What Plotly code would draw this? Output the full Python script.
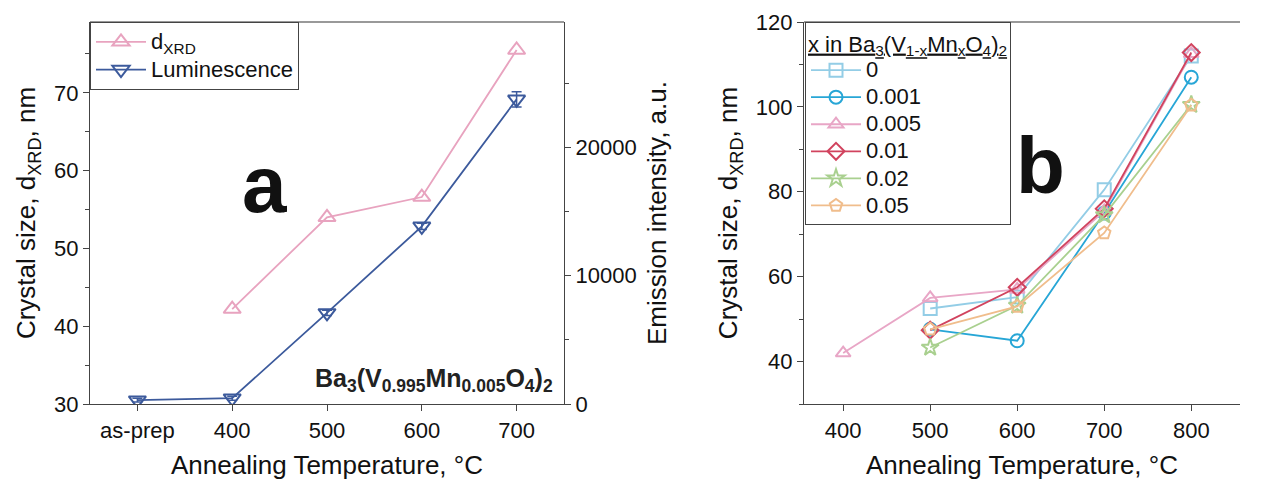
import plotly.graph_objects as go

# ---------------- data ----------------
temps_a = ["as-prep", "400", "500", "600", "700"]
d_xrd_a = [None, 42.2, 54.0, 56.6, 75.5]
lum_a = [300, 450, 7100, 13850, 23750]
lum_err = [150, 150, 200, 250, 600]

temps_b = [400, 500, 600, 700, 800]
x_labels = ["0", "0.001", "0.005", "0.01", "0.02", "0.05"]
size_x0 = [None, 52.5, 55.2, 80.5, 112.0]
size_x0001 = [None, 47.6, 44.9, 75.0, 107.0]
size_x0005 = [42.0, 55.0, 57.0, 75.5, 112.5]
size_x001 = [None, 47.4, 57.5, 76.0, 112.8]
size_x002 = [None, 43.3, 53.2, 74.5, 100.5]
size_x005 = [None, 47.6, 53.0, 70.3, 100.4]

series_b = [size_x0, size_x0001, size_x0005, size_x001, size_x002, size_x005]
colors_b = ["#93cde6", "#27a6d6", "#e8a6c6", "#d1435e", "#a9d08f", "#f0bd8c"]
symbols_b = ["square-open", "circle-open", "triangle-up-open", "diamond-open", "star-open", "pentagon-open"]

PINK = "#e8a3bf"
NAVY = "#3c5a9c"
FONT = "Liberation Sans, Arial, sans-serif"

# the page places the figure 8 px from the top-left corner
OFF = 8
W, H = 1271 - OFF, 481 - OFF
def px(x):
    return (x - OFF) / W
def py(y):
    return 1 - (y - OFF) / H

def big(t, s=22):
    return f'<span style="font-size:{s}px">{t}</span>'

fig = go.Figure()

fig.add_trace(go.Scatter(
    x=temps_a, y=d_xrd_a, name=big("d<sub>XRD</sub>"), mode="lines+markers",
    line=dict(color=PINK, width=1.8),
    marker=dict(symbol="triangle-up-open", size=15, color=PINK, line=dict(width=2, color=PINK)),
    xaxis="x", yaxis="y", legend="legend",
))
fig.add_trace(go.Scatter(
    x=temps_a, y=lum_a, name=big("Luminescence"), mode="lines+markers",
    line=dict(color=NAVY, width=1.8),
    marker=dict(symbol="triangle-down-open", size=15, color=NAVY, line=dict(width=2, color=NAVY)),
    error_y=dict(type="data", array=lum_err, visible=True, color=NAVY, thickness=1.5, width=5),
    xaxis="x", yaxis="y2", legend="legend",
))

for lab, ys, c, s in zip(x_labels, series_b, colors_b, symbols_b):
    fig.add_trace(go.Scatter(
        x=temps_b, y=ys, name=big(lab), mode="lines+markers",
        line=dict(color=c, width=1.8),
        marker=dict(symbol=s, size=13, color=c, line=dict(width=2, color=c)),
        xaxis="x3", yaxis="y3", legend="legend2",
    ))

axis_common = dict(
    showline=True, linecolor="#444", linewidth=1.2,
    ticks="outside", ticklen=6, tickwidth=1.2, tickcolor="#444",
    showgrid=False, zeroline=False, automargin=False,
    tickfont=dict(family=FONT, size=22, color="#111"),
)
title_font = dict(family=FONT, size=26, color="#111")

ydom = [py(404), py(22)]

fig.update_layout(
    width=W, height=H,
    margin=dict(l=0, r=0, t=0, b=0, autoexpand=False),
    paper_bgcolor="white", plot_bgcolor="white",
    font=dict(family=FONT, color="#111"),
    xaxis=dict(
        axis_common, domain=[px(90), px(564)], anchor="y",
        type="category", range=[-0.5, 4.5], mirror=False,
        title=dict(text="Annealing Temperature, °C", font=title_font, standoff=14),
    ),
    yaxis=dict(
        axis_common, domain=ydom, anchor="x", range=[30, 79.1], dtick=10,
        minor=dict(ticks="outside", ticklen=4, dtick=5, tickcolor="#444"),
        title=dict(text="Crystal size, d<sub>XRD</sub>, nm", font=title_font, standoff=10),
    ),
    yaxis2=dict(
        axis_common, overlaying="y", anchor="x", side="right",
        range=[0, 29780], dtick=10000, tickformat="d",
        minor=dict(ticks="outside", ticklen=4, dtick=5000, tickcolor="#444"),
        title=dict(text="Emission intensity, a.u.", font=title_font, standoff=12),
    ),
    xaxis3=dict(
        axis_common, domain=[px(804), px(1240)], anchor="y3",
        range=[355, 856], dtick=100,
        title=dict(text="Annealing Temperature, °C", font=title_font, standoff=14),
    ),
    yaxis3=dict(
        axis_common, domain=ydom, anchor="x3", range=[30, 120], dtick=20,
        minor=dict(ticks="outside", ticklen=4, dtick=10, tickcolor="#444"),
        title=dict(text="Crystal size, d<sub>XRD</sub>, nm", font=title_font, standoff=10),
    ),
    legend=dict(
        x=px(90), y=py(22), xanchor="left", yanchor="top",
        bordercolor="#444", borderwidth=1, bgcolor="white",
        font=dict(family=FONT, size=19, color="#111"), itemwidth=50,
        tracegroupgap=0,
    ),
    legend2=dict(
        x=px(805), y=py(22), xanchor="left", yanchor="top",
        bordercolor="#444", borderwidth=1, bgcolor="white",
        font=dict(family=FONT, size=18.5, color="#111"), itemwidth=50,
        title=dict(text="<u>x in Ba<sub>3</sub>(V<sub>1-x</sub>Mn<sub>x</sub>O<sub>4</sub>)<sub>2</sub></u>",
                   font=dict(family=FONT, size=22, color="#111")),
    ),
    showlegend=True,
)

# top frame lines
fig.add_shape(type="line", xref="paper", yref="paper", x0=px(90), x1=px(564), y0=py(22), y1=py(22),
              line=dict(color="#777", width=1.5))
fig.add_shape(type="line", xref="paper", yref="paper", x0=px(804), x1=px(1240), y0=py(22), y1=py(22),
              line=dict(color="#777", width=1.5))

fig.add_annotation(text="<b>a</b>", xref="paper", yref="paper", x=px(264), y=py(184),
                   xanchor="center", yanchor="middle", showarrow=False,
                   font=dict(family=FONT, size=80, color="#111"))
fig.add_annotation(text="<b>b</b>", xref="paper", yref="paper", x=px(1040), y=py(165),
                   xanchor="center", yanchor="middle", showarrow=False,
                   font=dict(family=FONT, size=80, color="#111"))
fig.add_annotation(text="<b>Ba<sub>3</sub>(V<sub>0.995</sub>Mn<sub>0.005</sub>O<sub>4</sub>)<sub>2</sub></b>",
                   xref="paper", yref="paper", x=px(555), y=py(380),
                   xanchor="right", yanchor="middle", showarrow=False,
                   font=dict(family=FONT, size=25, color="#222"))

fig.write_html("out.html")
